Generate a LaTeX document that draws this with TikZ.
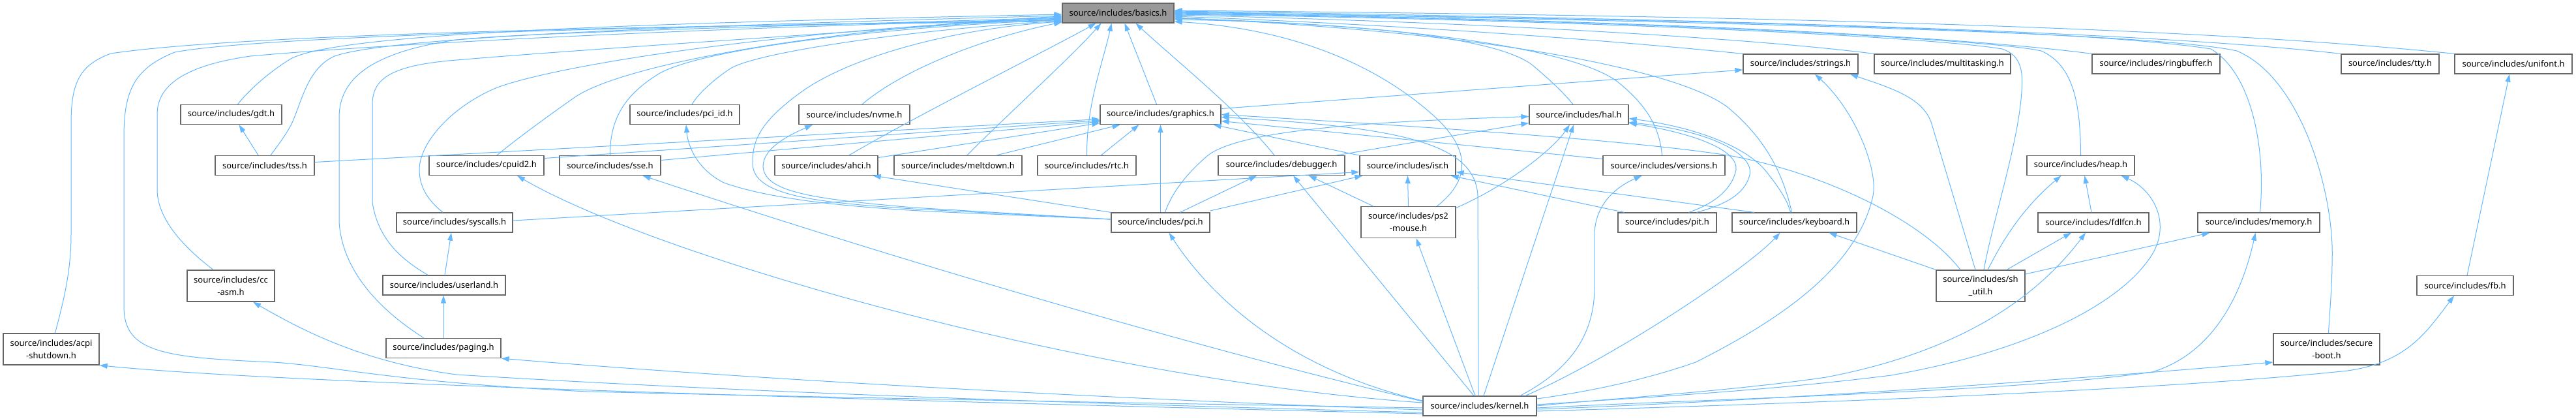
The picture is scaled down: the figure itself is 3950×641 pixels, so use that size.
\documentclass[tikz,border=0pt]{standalone}
\usepackage{fontspec}
\setmainfont{Noto Sans}
\usetikzlibrary{arrows.meta}
\definecolor{edgec}{HTML}{63B8FF}
\definecolor{nodeb}{HTML}{666666}
\definecolor{basefill}{HTML}{999999}
\tikzset{
  fnode/.style={draw=nodeb, fill=white, line width=1.3pt, inner sep=0pt,
    font=\fontsize{13}{19}\selectfont, align=center, minimum height=30pt},
  twoline/.style={minimum height=48pt},
  dep/.style={draw=edgec, line width=1pt, arrows={Triangle[length=12pt,width=8pt,fill=edgec]-}},
}
\begin{document}
\begin{tikzpicture}[x=1pt,y=-1pt]
\fill[white] (0,0) rectangle (3950,641);
\useasboundingbox (0,0) rectangle (3950,641);

% nodes
\node[fnode, fill=basefill, minimum width=171pt] (basics) at (1714.5,20) {source/includes/basics.h};
\node[fnode, minimum width=185pt] (graphics) at (1779.5,175.5) {source/includes/graphics.h};
\node[fnode, minimum width=155pt] (gdt) at (354.5,175.5) {source/includes/gdt.h};
\node[fnode, minimum width=152pt] (tss) at (406,253.5) {source/includes/tss.h};
\node[fnode, twoline, minimum width=134pt] (cc) at (354,438) {source/includes/cc\\-asm.h};
\node[fnode, twoline, minimum width=147pt] (acpi) at (78.5,535) {source/includes/acpi\\-shutdown.h};
\node[fnode, minimum width=178pt] (syscalls) at (697,341) {source/includes/syscalls.h};
\node[fnode, minimum width=188pt] (userland) at (681,437) {source/includes/userland.h};
\node[fnode, minimum width=176pt] (paging) at (680,533.5) {source/includes/paging.h};
\node[fnode, minimum width=176pt] (cpuid2) at (746,253.5) {source/includes/cpuid2.h};
\node[fnode, minimum width=155pt] (sse) at (935.5,253.5) {source/includes/sse.h};
\node[fnode, minimum width=168pt] (pciid) at (1050,175.5) {source/includes/pci\_id.h};
\node[fnode, minimum width=170pt] (nvme) at (1310,175.5) {source/includes/nvme.h};
\node[fnode, minimum width=158pt] (ahci) at (1267,253.5) {source/includes/ahci.h};
\node[fnode, minimum width=196pt] (meltdown) at (1469,253.5) {source/includes/meltdown.h};
\node[fnode, minimum width=151pt] (rtc) at (1666.5,253.5) {source/includes/rtc.h};
\node[fnode, minimum width=194pt] (debugger) at (1965,253.5) {source/includes/debugger.h};
\node[fnode, minimum width=151pt] (pci) at (1779.5,341) {source/includes/pci.h};
\node[fnode, minimum width=152pt] (hal) at (2421,175.5) {source/includes/hal.h};
\node[fnode, minimum width=147pt] (isr) at (2158.5,253.5) {source/includes/isr.h};
\node[fnode, twoline, minimum width=145pt] (ps2) at (2159.5,340.5) {source/includes/ps2\\-mouse.h};
\node[fnode, minimum width=187pt] (versions) at (2551.5,253.5) {source/includes/versions.h};
\node[fnode, minimum width=151pt] (pit) at (2556.5,341) {source/includes/pit.h};
\node[fnode, minimum width=174pt] (kernel) at (2269,622) {source/includes/kernel.h};
\node[fnode, minimum width=176pt] (strings) at (2761,98) {source/includes/strings.h};
\node[fnode, minimum width=209pt] (multitasking) at (2978.5,98) {source/includes/multitasking.h};
\node[fnode, minimum width=196pt] (ringbuffer) at (3306,98) {source/includes/ringbuffer.h};
\node[fnode, minimum width=150pt] (tty) at (3665,98) {source/includes/tty.h};
\node[fnode, minimum width=180pt] (unifont) at (3854,98) {source/includes/unifont.h};
\node[fnode, minimum width=191pt] (keyboard) at (2751.5,341) {source/includes/keyboard.h};
\node[fnode, twoline, minimum width=136pt] (sh) at (3037,438) {source/includes/sh\\\_util.h};
\node[fnode, minimum width=165pt] (heap) at (3190.5,253.5) {source/includes/heap.h};
\node[fnode, minimum width=170pt] (fdlfcn) at (3210,341) {source/includes/fdlfcn.h};
\node[fnode, minimum width=187pt] (memory) at (3463.5,341) {source/includes/memory.h};
\node[fnode, twoline, minimum width=163pt] (secure) at (3567.5,535) {source/includes/secure\\-boot.h};
\node[fnode, minimum width=148pt] (fb) at (3780,437.5) {source/includes/fb.h};

% ---- edges into basics.h, left side
\draw[dep] ([yshift=-13pt]basics.west) .. controls (900,40) and (350,55) .. (170,82) .. controls (120,100) and (109,130) .. (109,190) -- (109,360) .. controls (109,420) and (95,470) .. ([xshift=6pt]acpi.north);
\draw[dep] ([yshift=-11pt]basics.west) .. controls (1000,40) and (400,55) .. (268,80) .. controls (205,105) and (190,140) .. (190,210) -- (190,470) .. controls (190,540) and (250,548) .. (420,555) .. controls (520,562) and (600,585) .. (900,600) .. controls (1400,612) and (1900,620) .. ([yshift=-3pt]kernel.west);
\draw[dep] ([yshift=-9pt]basics.west) .. controls (1000,45) and (560,70) .. (384,86) .. controls (285,100) and (241,130) .. (241,175) -- (241,290) .. controls (241,340) and (290,385) .. ([xshift=-27pt]cc.north);
\draw[dep] ([yshift=-2pt]basics.west) .. controls (1000,35) and (520,50) .. (446,90) .. controls (410,112) and (380,140) .. ([xshift=10pt]gdt.north);
\draw[dep] ([yshift=-4pt]basics.west) .. controls (1100,38) and (600,55) .. (513,86) .. controls (470,105) and (462,160) .. (446,192) .. controls (435,212) and (422,228) .. ([xshift=9pt]tss.north);
\draw[dep] ([yshift=-7pt]basics.west) .. controls (1200,40) and (800,50) .. (700,61) .. controls (570,80) and (520,120) .. (520,180) -- (520,340) .. controls (525,420) and (590,480) .. ([xshift=-30pt]paging.north);
\draw[dep] ([yshift=-6pt]basics.west) .. controls (1300,50) and (900,75) .. (700,92) .. controls (600,100) and (571,120) .. (571,160) -- (571,310) .. controls (580,370) and (620,400) .. ([xshift=-25pt]userland.north);
\draw[dep] ([yshift=-8pt]basics.west) .. controls (1200,45) and (850,100) .. (760,135) .. controls (690,165) and (643,220) .. (643,260) .. controls (643,290) and (660,310) .. ([xshift=-18pt]syscalls.north);
\draw[dep] ([yshift=-5pt]basics.west) .. controls (1250,45) and (950,100) .. (880,150) .. controls (830,185) and (790,215) .. ([xshift=16pt]cpuid2.north);
\draw[dep] ([yshift=-10pt]basics.west) .. controls (1300,45) and (1060,80) .. (1007,115) .. controls (960,145) and (935,180) .. (sse.north);
\draw[dep] ([yshift=-12pt]basics.west) .. controls (1400,45) and (1160,80) .. (1120,105) .. controls (1090,125) and (1070,145) .. ([xshift=11pt]pciid.north);
\draw[dep] ([yshift=-14pt]basics.west) .. controls (1500,60) and (1380,110) .. ([xshift=12pt]nvme.north);
\draw[dep] ([yshift=-13pt]basics.west) .. controls (1450,45) and (1300,90) .. (1230,140) .. controls (1160,190) and (1154,220) .. (1154,250) .. controls (1154,300) and (1250,310) .. (1400,320) -- ([yshift=5pt]pci.west);
% bottom of basics
\draw[dep] ([xshift=-34pt]basics.south) .. controls (1600,80) and (1400,180) .. ([xshift=35pt]ahci.north);
\draw[dep] ([xshift=-26pt]basics.south) .. controls (1640,90) and (1540,180) .. ([xshift=14pt]meltdown.north);
\draw[dep] ([xshift=-10pt]basics.south) .. controls (1690,100) and (1666,160) .. (rtc.north);
\draw[dep] ([xshift=10pt]basics.south) -- ([xshift=-6pt]graphics.north);
\draw[dep] ([xshift=27pt]basics.south) .. controls (1800,90) and (1900,170) .. ([xshift=-11pt]debugger.north);
% right side of basics
\draw[dep] ([yshift=-13pt]basics.east) .. controls (2000,45) and (2120,110) .. (2190,170) .. controls (2250,220) and (2262,270) .. ([xshift=44pt]ps2.north);
\draw[dep] ([yshift=-10pt]basics.east) .. controls (2100,35) and (2300,60) .. (2350,100) .. controls (2380,125) and (2400,145) .. ([xshift=-9pt]hal.north);
\draw[dep] ([yshift=-8pt]basics.east) .. controls (2200,40) and (2420,80) .. (2480,125) .. controls (2530,165) and (2545,200) .. ([xshift=-3pt]versions.north);
\draw[dep] ([yshift=-7pt]basics.east) .. controls (2300,50) and (2580,110) .. (2650,165) .. controls (2710,215) and (2735,270) .. ([xshift=-4pt]keyboard.north);
\draw[dep] ([yshift=-5pt]basics.east) .. controls (2200,40) and (2500,65) .. (strings.north west);
\draw[dep] ([yshift=-3pt]basics.east) .. controls (2300,35) and (2700,60) .. (multitasking.north west);
\draw[dep] ([yshift=-2pt]basics.east) .. controls (2400,30) and (2950,55) .. (3070,75) .. controls (3100,85) and (3102,110) .. (3100,140) .. controls (3095,220) and (3055,340) .. ([xshift=5pt]sh.north);
\draw[dep] ([yshift=-1pt]basics.east) .. controls (2500,30) and (3050,60) .. (3130,78) .. controls (3180,100) and (3190,160) .. (heap.north);
\draw[dep] (basics.east) .. controls (2500,30) and (3000,55) .. (ringbuffer.north west);
\draw[dep] ([yshift=1pt]basics.east) .. controls (2600,30) and (3200,45) .. (3390,75) .. controls (3450,110) and (3475,220) .. ([xshift=2pt]memory.north);
\draw[dep] ([yshift=2pt]basics.east) .. controls (2700,35) and (3300,50) .. (3430,78) .. controls (3530,120) and (3580,300) .. (3576,400) .. controls (3576,440) and (3572,480) .. ([xshift=3pt]secure.north);
\draw[dep] ([yshift=3pt]basics.east) .. controls (2700,30) and (3300,50) .. (tty.north west);
\draw[dep] ([yshift=4pt]basics.east) .. controls (2800,25) and (3400,45) .. (unifont.north west);

% ---- other edges
\draw[dep] ([xshift=12pt]gdt.south) -- ([xshift=-10pt]tss.north);
\draw[dep] ([yshift=-7pt]graphics.west) -- ([yshift=5pt]tss.east);
\draw[dep] ([yshift=-9pt]graphics.west) -- ([yshift=11pt]cpuid2.east);
\draw[dep] ([yshift=-11pt]graphics.west) -- ([yshift=8pt]sse.east);
\draw[dep] ([yshift=-13pt]graphics.west) -- ([yshift=12pt]ahci.east);
\draw[dep] ([xshift=-62pt]graphics.south) -- ([xshift=59pt]meltdown.north);
\draw[dep] ([xshift=-33pt]graphics.south) -- ([xshift=22pt]rtc.north);
\draw[dep] (graphics.south) -- (pci.north);
\draw[dep] ([xshift=-12pt]graphics.south east) -- ([xshift=-75pt]isr.north);
\draw[dep] ([yshift=-10pt]graphics.east) -- ([yshift=10pt]versions.west);
\draw[dep] (graphics.east) .. controls (2200,195) and (2500,215) .. (2650,238) .. controls (2800,265) and (2950,340) .. ([xshift=-31pt]sh.north);
\draw[dep] ([yshift=-4pt]graphics.east) .. controls (2150,195) and (2262,220) .. (2266,300) -- ([xshift=-2pt]kernel.north);
\draw[dep] ([yshift=-9pt]strings.west) -- ([yshift=9pt]graphics.east);

\draw[dep] ([xshift=-8pt]ahci.south east) -- (pci.north west);
\draw[dep] ([xshift=-64pt]nvme.south) .. controls (1215,205) and (1170,225) .. (1170,255) .. controls (1172,295) and (1250,305) .. (1400,318) -- ([yshift=5pt]pci.west);
\draw[dep] ([xshift=2pt]pciid.south) .. controls (1055,225) and (1070,260) .. (1110,280) .. controls (1180,305) and (1300,318) .. (1450,325) -- ([yshift=5pt]pci.west);
\draw[dep] ([yshift=-3pt]hal.west) .. controls (2150,185) and (1900,195) .. (1850,240) .. controls (1815,270) and (1795,300) .. ([xshift=7pt]pci.north);
\draw[dep] ([xshift=5pt]isr.south west) -- ([yshift=18pt]pci.east);
\draw[dep] ([xshift=-38pt]debugger.south) -- ([xshift=30pt]pci.north);
\draw[dep] ([xshift=13pt]pci.south) .. controls (1840,430) and (1950,560) .. ([yshift=8pt]kernel.west);

\draw[dep] ([xshift=18pt]debugger.south) -- ([xshift=-9pt]kernel.north);
\draw[dep] ([xshift=42pt]debugger.south) -- ([xshift=-54pt]ps2.north);
\draw[dep] ([yshift=-13pt]hal.west) -- ([xshift=85pt]debugger.north);
\draw[dep] ([yshift=-10pt]isr.west) -- ([yshift=3pt]syscalls.east);
\draw[dep] (isr.south) -- (ps2.north);
\draw[dep] ([xshift=-14pt]hal.south) .. controls (2380,230) and (2310,285) .. ([yshift=22pt]ps2.east);
\draw[dep] ([xshift=-8pt]hal.south) -- ([xshift=6pt]kernel.north);
\draw[dep] ([xshift=12pt]ps2.south) -- ([xshift=-7pt]kernel.north);
\draw[dep] ([xshift=-34pt]versions.south) .. controls (2470,290) and (2445,320) .. (2445,360) -- (2445,440) .. controls (2445,520) and (2400,570) .. ([xshift=62pt]kernel.north);
\draw[dep] ([yshift=-10pt]isr.east) -- ([xshift=-62pt]keyboard.north);
\draw[dep] ([xshift=-8pt]isr.south east) -- ([xshift=-66pt]pit.north);
\draw[dep] ([yshift=-13pt]hal.east) .. controls (2600,205) and (2665,230) .. (2662,260) .. controls (2655,295) and (2620,315) .. ([xshift=33pt]pit.north);
\draw[dep] ([yshift=-12pt]hal.east) .. controls (2620,200) and (2690,235) .. (2683,268) .. controls (2675,300) and (2640,315) .. ([xshift=45pt]pit.north);
\draw[dep] ([yshift=-6pt]hal.east) .. controls (2600,195) and (2680,225) .. (2710,265) .. controls (2730,290) and (2742,310) .. ([xshift=-6pt]keyboard.north);
\draw[dep] ([xshift=-22pt]keyboard.south) .. controls (2680,410) and (2480,545) .. ([xshift=70pt]kernel.north);
\draw[dep] ([xshift=53pt]keyboard.south) -- (sh.north west);

\draw[dep] ([xshift=22pt]strings.south) .. controls (2845,170) and (2880,260) .. (2872,300) .. controls (2850,400) and (2750,480) .. (2600,555) .. controls (2500,590) and (2400,605) .. ([yshift=11pt]kernel.east);
\draw[dep] ([xshift=76pt]strings.south) .. controls (2900,135) and (2950,150) .. (2962,190) -- ([xshift=-8pt]sh.north);
\draw[dep] ([xshift=-30pt]heap.south) .. controls (3100,320) and (3070,370) .. ([xshift=11pt]sh.north);
\draw[dep] ([xshift=6pt]heap.south) -- ([xshift=-3pt]fdlfcn.north);
\draw[dep] ([xshift=62pt]heap.south) .. controls (3300,290) and (3330,340) .. (3300,390) .. controls (3250,470) and (3100,540) .. (2900,575) .. controls (2700,600) and (2500,610) .. ([yshift=2pt]kernel.east);
\draw[dep] ([xshift=-34pt]fdlfcn.south) -- ([xshift=40pt]sh.north);
\draw[dep] ([xshift=-12pt]fdlfcn.south) .. controls (3120,460) and (3000,540) .. (2800,578) .. controls (2650,600) and (2450,612) .. (kernel.east);
\draw[dep] ([xshift=-75pt]memory.south) -- ([yshift=18pt]sh.east);
\draw[dep] ([xshift=-5pt]memory.south) .. controls (3440,440) and (3400,540) .. (3300,570) .. controls (3100,600) and (2600,612) .. ([yshift=-3pt]kernel.east);
\draw[dep] ([yshift=-20pt]secure.west) .. controls (3200,580) and (2700,615) .. ([yshift=-5pt]kernel.east);
\draw[dep] ([xshift=-17pt]fb.south) .. controls (3720,510) and (3690,555) .. (3600,568) .. controls (3300,600) and (2700,620) .. ([yshift=-8pt]kernel.east);
\draw[dep] ([xshift=-6pt]unifont.south) -- ([xshift=3pt]fb.north);

\draw[dep] ([xshift=47pt]cpuid2.south) .. controls (1000,390) and (1650,580) .. ([yshift=5pt]kernel.west);
\draw[dep] ([xshift=50pt]sse.south) .. controls (1200,340) and (1700,500) .. ([yshift=7pt]kernel.west);
\draw[dep] (paging.south east) .. controls (1200,585) and (1800,615) .. ([yshift=-6pt]kernel.west);
\draw[dep] ([xshift=34pt]cc.south) .. controls (470,510) and (560,555) .. (700,574) .. controls (1200,605) and (1800,622) .. ([yshift=-10pt]kernel.west);
\draw[dep] (acpi.south east) .. controls (400,585) and (1200,610) .. ([yshift=-12pt]kernel.west);
\draw[dep] ([xshift=-5pt]syscalls.south) -- ([xshift=1pt]userland.north);
\draw[dep] ([xshift=-1pt]userland.south) -- (paging.north);
\end{tikzpicture}
\end{document}
